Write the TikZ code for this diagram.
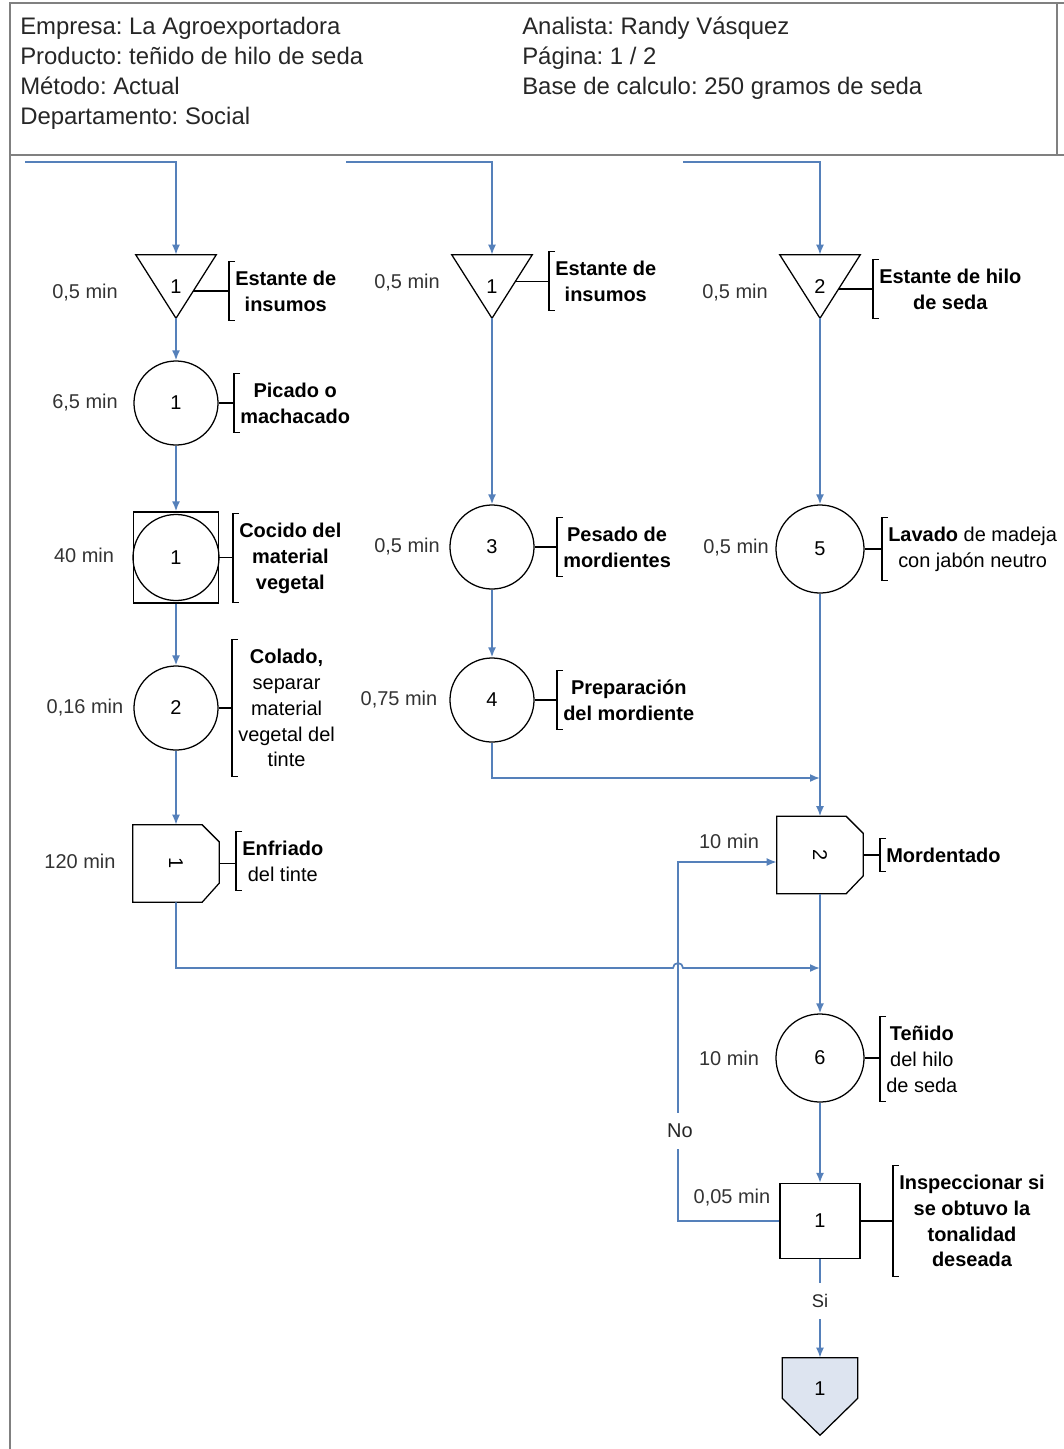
\documentclass[tikz,border=0pt]{standalone}
\usepackage{fontspec}
\usepackage{graphicx}
\setmainfont{Liberation Sans}
\usetikzlibrary{calc, arrows.meta, backgrounds}
\definecolor{flowblue}{HTML}{5580BA}
\definecolor{framegray}{HTML}{808080}
\definecolor{timegray}{HTML}{333333}
\definecolor{endfill}{HTML}{DDE4F0}
\frenchspacing

\begin{document}
\begin{tikzpicture}[
  x=0.025cm, y=-0.025cm,
  every node/.style={font=\fontsize{14.2}{18.4}\selectfont},
  hdr/.style={anchor=north west, align=left, inner sep=0,
    font=\fontsize{17}{21.3}\selectfont, text=black!85},
  frame/.style={draw=framegray, line width=2pt},
  shp/.style={draw=black, line width=0.9pt},
  opn/.style n args={1}{
    circle, draw=black, line width=0.9pt, minimum size=#1, inner sep=0
  },
  stor/.style={
    rectangle, inner sep=0, minimum width=2cm, minimum height=1.575cm,
    text height=0.36cm, text depth=0cm
  },
  dly/.style={
    rectangle, inner sep=0, minimum width=2.15cm, minimum height=1.925cm
  },
  insp/.style={
    rectangle, draw=black, line width=0.9pt, inner sep=0,
    minimum width=2cm, minimum height=1.875cm
  },
  fin/.style={
    rectangle, inner sep=0, minimum width=1.875cm, minimum height=1.925cm,
    text height=0.36cm, text depth=0.4cm
  },
  tm/.style={text=timegray},
  brk/.style={
    anchor=west, align=center, inner xsep=0.15cm, inner ysep=0.22cm,
    font=\bfseries\fontsize{14.2}{18.4}\selectfont,
    append after command={\pgfextra{
      \draw[shp] ([xshift=0.15cm]\tikzlastnode.north west)
        -- (\tikzlastnode.north west) -- (\tikzlastnode.south west)
        -- ([xshift=0.15cm]\tikzlastnode.south west);}}
  },
  cond/.style={fill=white, inner xsep=2pt, inner ysep=0.28cm, text=black!85},
  flow/.style={
    draw=flowblue, line width=1.2pt, -{Latex[length=0.25cm, width=0.2cm]}
  }
]

\useasboundingbox (0,0) rectangle (1064,1449);

%% Column x-positions (pixels of the sheet)
\def\xA{176}
\def\xB{492}
\def\xC{820}

%% === SHEET FRAME AND HEADER ===
\draw[frame] (10,1449) -- (10,3) -- (1064,3);
\draw[frame] (1057,3) -- (1057,155);
\draw[frame] (10,155) -- (1064,155);

\node[hdr] (hdrL) at (20,17) {Empresa: La Agroexportadora\\Producto: teñido de hilo de seda\\Método: Actual\\Departamento: Social};
\node[hdr] (hdrR) at (522,17) {Analista: Randy Vásquez\\Página: 1 / 2\\Base de calculo: 250 gramos de seda};

%% === COLUMN A: DYE PREPARATION ===
\coordinate (inA) at (25,162);
\node[stor] (t1) at (\xA, 286.5) {1};
\draw[shp] (t1.north west) -- (t1.north east) -- (t1.south) -- cycle;
\node[opn={2.1cm}] (op1) at (\xA, 403) {1};
\node[insp, minimum width=2.125cm, minimum height=2.275cm] (k1) at (\xA, 557.5) {1};
\draw[shp] (k1.center) circle[radius=1.075cm];
\node[opn={2.1cm}] (op2) at (\xA, 708) {2};
\node[dly] (e1) at (\xA, 863.5) {\rotatebox{-90}{1}};
\draw[shp] (e1.north west) -- ([xshift=-0.43cm]e1.north east)
  -- ([yshift=-0.43cm]e1.north east) -- ([yshift=0.48cm]e1.south east)
  -- ([xshift=-0.43cm]e1.south east) -- (e1.south west) -- cycle;

\node[tm] (tmA1) at (85, 293) {0,5 min};
\node[tm] (tmA2) at (85, 403) {6,5 min};
\node[tm] (tmA3) at (84, 555) {40 min};
\node[tm] (tmA4) at (85, 708) {0,16 min};
\node[tm] (tmA5) at (80, 861) {120 min};

\coordinate (t1e) at ($(t1.north east)!0.57!(t1.south)$);
\node[brk] (lt1) at (229, 291) {Estante de\\insumos};
\node[brk] (lp1) at (234, 403) {Picado o\\machacado};
\node[brk] (lk1) at (233, 558) {Cocido del\\material\\vegetal};
\node[brk] (lp2) at (232, 708) {Colado,\\\textmd{separar}\\\textmd{material}\\\textmd{vegetal del}\\\textmd{tinte}};
\node[brk] (le1) at (236, 861) {Enfriado\\\textmd{del tinte}};

\draw[shp] (t1e) -- (t1e -| lt1.west);
\draw[shp] (op1.east) -- (lp1.west);
\draw[shp] (k1.east) -- (k1.east -| lk1.west);
\draw[shp] (op2.east) -- (lp2.west);
\draw[shp] (e1.east) -- (e1.east -| le1.west);

%% === COLUMN B: MORDANT ===
\coordinate (inB) at (346,162);
\node[stor] (t2) at (\xB, 286.5) {1};
\draw[shp] (t2.north west) -- (t2.north east) -- (t2.south) -- cycle;
\node[opn={2.1cm}] (op3) at (\xB, 547) {3};
\node[opn={2.1cm}] (op4) at (\xB, 700) {4};

\node[tm] (tmB1) at (407, 283) {0,5 min};
\node[tm] (tmB2) at (407, 547) {0,5 min};
\node[tm] (tmB3) at (399, 700) {0,75 min};

\coordinate (t2e) at ($(t2.north east)!0.42!(t2.south)$);
\node[brk] (lt2) at (549, 281) {Estante de\\insumos};
\node[brk] (lp3) at (557, 547) {Pesado de\\mordientes};
\node[brk] (lp4) at (557, 700) {Preparación\\del mordiente};

\draw[shp] (t2e) -- (t2e -| lt2.west);
\draw[shp] (op3.east) -- (lp3.west);
\draw[shp] (op4.east) -- (lp4.west);

%% === COLUMN C: SILK THREAD ===
\coordinate (inC) at (683,162);
\node[stor] (t3) at (\xC, 286.5) {2};
\draw[shp] (t3.north west) -- (t3.north east) -- (t3.south) -- cycle;
\node[opn={2.2cm}] (op5) at (\xC, 549) {5};
\node[dly] (m2) at (\xC, 855) {\rotatebox{-90}{2}};
\draw[shp] (m2.north west) -- ([xshift=-0.43cm]m2.north east)
  -- ([yshift=-0.43cm]m2.north east) -- ([yshift=0.45cm]m2.south east)
  -- ([xshift=-0.43cm]m2.south east) -- (m2.south west) -- cycle;
\node[opn={2.2cm}] (op6) at (\xC, 1058) {6};
\node[insp] (i1) at (\xC, 1221) {1};
\node[fin] (f1) at (\xC, 1396.5) {1};
\begin{pgfonlayer}{background}
  \draw[shp, fill=endfill] (f1.north west) -- (f1.north east)
    -- ([yshift=0.925cm]f1.south east) -- (f1.south)
    -- ([yshift=0.925cm]f1.south west) -- cycle;
\end{pgfonlayer}

\node[tm] (tmC1) at (735, 293) {0,5 min};
\node[tm] (tmC2) at (736, 548) {0,5 min};
\node[tm] (tmC3) at (729, 841) {10 min};
\node[tm] (tmC4) at (729, 1058) {10 min};
\node[tm] (tmC5) at (732, 1198) {0,05 min};

\coordinate (t3e) at ($(t3.north east)!0.54!(t3.south)$);
\node[brk] (lt3) at (873, 289) {Estante de hilo\\de seda};
\node[brk] (lp5) at (882, 549) {Lavado \textmd{de madeja}\\\textmd{con jabón neutro}};
\node[brk] (lm2) at (880, 855) {Mordentado};
\node[brk] (lp6) at (880, 1059) {Teñido\\\textmd{del hilo}\\\textmd{de seda}};
\node[brk] (li1) at (893, 1221) {Inspeccionar si\\se obtuvo la\\tonalidad\\deseada};

\draw[shp] (t3e) -- (t3e -| lt3.west);
\draw[shp] (op5.east) -- (op5.east -| lp5.west);
\draw[shp] (m2.east) -- (m2.east -| lm2.west);
\draw[shp] (op6.east) -- (op6.east -| lp6.west);
\draw[shp] (i1.east) -- (i1.east -| li1.west);

%% === FLOW LINES ===
\draw[flow] (inA) -| (t1.north);
\draw[flow] (t1.south) -- (op1.north);
\draw[flow] (op1.south) -- (k1.north);
\draw[flow] (k1.south) -- (op2.north);
\draw[flow] (op2.south) -- (e1.north);

\draw[flow] (inB) -| (t2.north);
\draw[flow] (t2.south) -- (op3.north);
\draw[flow] (op3.south) -- (op4.north);

\draw[flow] (inC) -| (t3.north);
\draw[flow] (t3.south) -- (op5.north);
\draw[flow] (op5.south) -- (m2.north);
\draw[flow] (m2.south) -- (op6.north);
\draw[flow] (op6.south) -- (i1.north);

%% joins into the silk line
\coordinate (j1) at (\xC, 778);
\coordinate (j2) at (\xC, 968);
\coordinate (hopL) at (673, 968);
\draw[flow] (op4.south) |- (j1);
\draw[flow] (e1.south) |- (hopL) arc[start angle=180, end angle=0, radius=0.125cm] -- (j2);

%% inspection: No goes back, Si goes to storage
\coordinate (nturn) at (678, 862);
\draw[flow] (i1.west) -| (nturn) -- (m2.west |- nturn);
\node[cond] (nolbl) at (680, 1131) {No};
\draw[flow] (i1.south) -- (f1.north);
\node[cond, font=\fontsize{13}{15}\selectfont] (silbl) at (\xC, 1301) {Si};

\end{tikzpicture}
\end{document}
